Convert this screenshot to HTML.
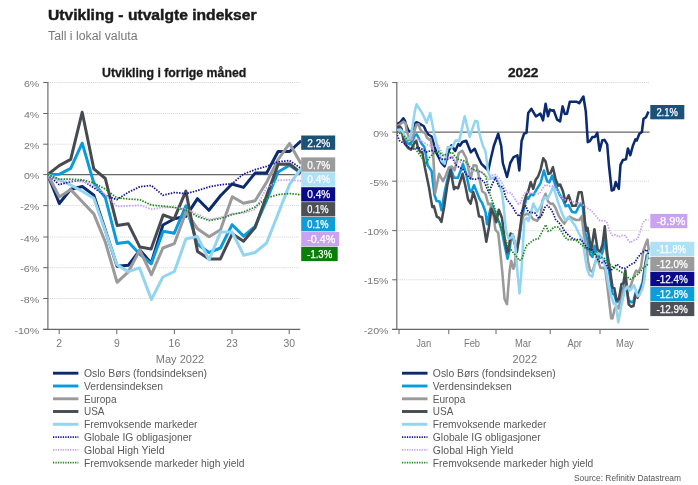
<!DOCTYPE html>
<html lang="no"><head><meta charset="utf-8"><title>Utvikling - utvalgte indekser</title>
<style>html,body{margin:0;padding:0;background:#fff}body{width:698px;height:485px;overflow:hidden;font-family:"Liberation Sans", sans-serif}svg{display:block}</style>
</head><body>
<svg width="698" height="485" viewBox="0 0 698 485" font-family='"Liberation Sans", sans-serif'>
<rect width="698" height="485" fill="#fff"/>
<text x="48" y="20.3" font-size="15" font-weight="700" fill="#1a1a1a" stroke="#1a1a1a" stroke-width="0.45" textLength="208.5" lengthAdjust="spacingAndGlyphs">Utvikling - utvalgte indekser</text>
<text x="48" y="39.6" font-size="12" fill="#777" textLength="89.5" lengthAdjust="spacingAndGlyphs">Tall i lokal valuta</text>
<text x="102" y="77.2" font-size="13" font-weight="700" fill="#1a1a1a" stroke="#1a1a1a" stroke-width="0.3" textLength="144.3" lengthAdjust="spacingAndGlyphs">Utvikling i forrige måned</text>
<text x="508" y="77" font-size="12.5" font-weight="700" fill="#1a1a1a" stroke="#1a1a1a" stroke-width="0.3" textLength="30.5" lengthAdjust="spacingAndGlyphs">2022</text>
<line x1="48" x2="300" y1="82.5" y2="82.5" stroke="#d2d2d2" stroke-width="1" stroke-dasharray="1 1.05"/>
<line x1="48" x2="300" y1="113.5" y2="113.5" stroke="#d2d2d2" stroke-width="1" stroke-dasharray="1 1.05"/>
<line x1="48" x2="300" y1="144.2" y2="144.2" stroke="#d2d2d2" stroke-width="1" stroke-dasharray="1 1.05"/>
<line x1="48" x2="300" y1="205.6" y2="205.6" stroke="#d2d2d2" stroke-width="1" stroke-dasharray="1 1.05"/>
<line x1="48" x2="300" y1="237.0" y2="237.0" stroke="#d2d2d2" stroke-width="1" stroke-dasharray="1 1.05"/>
<line x1="48" x2="300" y1="267.7" y2="267.7" stroke="#d2d2d2" stroke-width="1" stroke-dasharray="1 1.05"/>
<line x1="48" x2="300" y1="298.5" y2="298.5" stroke="#d2d2d2" stroke-width="1" stroke-dasharray="1 1.05"/>
<line x1="43.2" x2="48" y1="82.5" y2="82.5" stroke="#666" stroke-width="1"/>
<text x="23.9" y="87.0" font-size="9.7" fill="#777" textLength="15.4" lengthAdjust="spacingAndGlyphs">6%</text>
<line x1="43.2" x2="48" y1="113.5" y2="113.5" stroke="#666" stroke-width="1"/>
<text x="23.9" y="118.0" font-size="9.7" fill="#777" textLength="15.4" lengthAdjust="spacingAndGlyphs">4%</text>
<line x1="43.2" x2="48" y1="144.2" y2="144.2" stroke="#666" stroke-width="1"/>
<text x="23.9" y="148.7" font-size="9.7" fill="#777" textLength="15.4" lengthAdjust="spacingAndGlyphs">2%</text>
<line x1="43.2" x2="48" y1="174.6" y2="174.6" stroke="#666" stroke-width="1"/>
<text x="23.9" y="179.1" font-size="9.7" fill="#777" textLength="15.4" lengthAdjust="spacingAndGlyphs">0%</text>
<line x1="43.2" x2="48" y1="205.6" y2="205.6" stroke="#666" stroke-width="1"/>
<text x="20.3" y="210.1" font-size="9.7" fill="#777" textLength="19.0" lengthAdjust="spacingAndGlyphs">-2%</text>
<line x1="43.2" x2="48" y1="237.0" y2="237.0" stroke="#666" stroke-width="1"/>
<text x="20.3" y="241.5" font-size="9.7" fill="#777" textLength="19.0" lengthAdjust="spacingAndGlyphs">-4%</text>
<line x1="43.2" x2="48" y1="267.7" y2="267.7" stroke="#666" stroke-width="1"/>
<text x="20.3" y="272.2" font-size="9.7" fill="#777" textLength="19.0" lengthAdjust="spacingAndGlyphs">-6%</text>
<line x1="43.2" x2="48" y1="298.5" y2="298.5" stroke="#666" stroke-width="1"/>
<text x="20.3" y="303.0" font-size="9.7" fill="#777" textLength="19.0" lengthAdjust="spacingAndGlyphs">-8%</text>
<line x1="43.2" x2="48" y1="329.4" y2="329.4" stroke="#666" stroke-width="1"/>
<text x="14.4" y="333.9" font-size="9.7" fill="#777" textLength="24.9" lengthAdjust="spacingAndGlyphs">-10%</text>
<line x1="47.5" x2="300" y1="174.6" y2="174.6" stroke="#666" stroke-width="1.1"/>
<line x1="47.9" x2="47.9" y1="82.0" y2="329.9" stroke="#666" stroke-width="1.15"/>
<line x1="43.2" x2="300.3" y1="329.4" y2="329.4" stroke="#666" stroke-width="1.2"/>
<line x1="59.2" x2="59.2" y1="329.4" y2="334.2" stroke="#666" stroke-width="1"/>
<text x="59.2" y="346.6" font-size="10.4" fill="#777" text-anchor="middle">2</text>
<line x1="116.8" x2="116.8" y1="329.4" y2="334.2" stroke="#666" stroke-width="1"/>
<text x="116.8" y="346.6" font-size="10.4" fill="#777" text-anchor="middle">9</text>
<line x1="174.4" x2="174.4" y1="329.4" y2="334.2" stroke="#666" stroke-width="1"/>
<text x="174.4" y="346.6" font-size="10.4" fill="#777" text-anchor="middle">16</text>
<line x1="232" x2="232" y1="329.4" y2="334.2" stroke="#666" stroke-width="1"/>
<text x="232" y="346.6" font-size="10.4" fill="#777" text-anchor="middle">23</text>
<line x1="289.2" x2="289.2" y1="329.4" y2="334.2" stroke="#666" stroke-width="1"/>
<text x="289.2" y="346.6" font-size="10.4" fill="#777" text-anchor="middle">30</text>
<text x="180" y="362.5" font-size="11" fill="#777" text-anchor="middle">May 2022</text>
<g clip-path="url(#cl)">
<polyline points="47.7,174.5 59.3,203.5 70.7,189.3 82.3,186.5 93.8,195.1 105.3,230.0 117.1,266.3 128.3,265.3 139.9,250.1 151.2,263.1 162.9,225.0 174.4,218.8 185.9,216.3 197.5,198.7 208.9,210.3 220.5,195.8 232.0,184.0 243.5,187.4 255.1,173.1 266.6,173.1 278.1,151.5 289.6,151.5 301.1,140.8" fill="none" stroke="#0b2a6f" stroke-width="3.0" stroke-linejoin="round" stroke-linecap="butt"/>
<polyline points="47.7,174.5 59.2,174.3 70.7,168.3 82.2,143.2 93.8,183.0 105.3,197.5 117.1,243.5 128.3,242.0 139.9,254.3 151.2,263.8 163.2,231.2 174.2,233.3 185.9,205.9 197.5,244.2 209.0,252.5 220.5,248.0 232.1,224.7 243.6,236.1 255.1,226.4 266.6,200.3 278.1,172.0 289.6,165.3 301.1,173.2" fill="none" stroke="#0b9bdb" stroke-width="3.0" stroke-linejoin="round" stroke-linecap="butt"/>
<polyline points="47.7,174.5 59.4,197.0 70.7,189.6 82.3,201.8 93.8,213.9 105.3,242.0 117.1,282.3 128.3,271.9 139.8,250.1 151.4,274.7 162.9,248.0 174.4,243.6 186.0,211.9 197.5,228.8 209.0,236.8 220.5,229.8 232.3,196.7 243.5,203.3 255.1,200.8 266.6,182.2 278.1,159.5 289.6,143.4 301.1,163.9" fill="none" stroke="#9a9a9c" stroke-width="3.0" stroke-linejoin="round" stroke-linecap="butt"/>
<polyline points="47.7,174.5 59.2,165.6 70.7,159.4 82.2,112.2 93.8,168.8 105.3,178.5 117.2,225.6 128.2,223.7 139.9,247.1 151.1,248.9 163.2,215.0 174.1,218.8 185.9,191.1 197.5,251.4 209.0,259.0 220.4,258.9 232.2,233.8 243.5,241.3 255.1,227.5 266.6,195.8 278.2,164.2 289.6,164.0 301.1,173.0" fill="none" stroke="#474a50" stroke-width="3.0" stroke-linejoin="round" stroke-linecap="butt"/>
<polyline points="47.7,174.5 59.2,179.8 70.7,185.0 82.3,191.3 93.8,198.3 105.3,231.0 116.8,264.6 128.3,271.6 139.6,267.9 151.4,299.6 162.9,277.0 174.4,271.5 185.9,239.0 197.3,236.4 209.0,259.8 220.6,232.1 232.0,232.0 243.7,255.2 255.1,252.5 266.6,243.0 278.1,213.9 289.6,184.4 301.1,168.5" fill="none" stroke="#93d5f1" stroke-width="3.0" stroke-linejoin="round" stroke-linecap="butt"/>
<polyline points="47.7,174.5 59.2,184.7 70.7,181.6 82.3,180.4 93.8,187.8 105.3,195.3 116.8,199.7 128.3,192.3 139.9,186.7 151.4,185.5 162.9,195.3 174.4,192.5 185.9,193.7 197.5,190.6 209.0,186.9 220.5,184.8 232.0,183.7 243.5,174.0 255.1,169.7 266.6,166.3 278.1,161.8 289.6,160.6 301.1,168.5" fill="none" stroke="#15158f" stroke-width="1.75" stroke-dasharray="1.5 1.3" stroke-linejoin="round"/>
<polyline points="47.7,174.5 59.2,181.6 70.7,181.0 82.3,181.6 93.8,185.3 105.3,195.0 116.8,206.5 128.3,205.9 139.9,205.2 151.4,209.2 162.9,207.4 174.4,207.4 185.9,209.2 197.5,214.3 209.0,219.5 220.5,217.4 232.0,213.8 243.5,213.0 255.1,209.4 266.6,187.8 278.1,180.4 289.6,179.9 301.1,180.9" fill="none" stroke="#caa2f2" stroke-width="1.75" stroke-dasharray="1.5 1.3" stroke-linejoin="round"/>
<polyline points="47.7,174.5 59.2,179.2 70.7,179.2 82.3,179.8 93.8,182.9 105.3,189.1 116.8,197.8 128.3,199.0 139.9,199.7 151.4,205.1 162.9,206.1 174.4,207.4 185.9,210.2 197.5,216.4 209.0,220.5 220.5,218.5 232.0,214.6 243.5,212.0 255.1,207.1 266.6,198.0 278.1,194.6 289.6,193.5 301.1,194.7" fill="none" stroke="#1f8a1f" stroke-width="1.75" stroke-dasharray="1.5 1.3" stroke-linejoin="round"/>
</g>
<defs><clipPath id="cl"><rect x="47.5" y="80" width="254" height="250"/></clipPath><clipPath id="cr"><rect x="397" y="80" width="253" height="250"/></clipPath></defs>
<rect x="301.2" y="135.5" width="34" height="14.3" fill="#1b5276"/>
<text x="307.3" y="146.6" font-size="10.5" fill="#fff" stroke="#fff" stroke-width="0.25" textLength="23" lengthAdjust="spacingAndGlyphs">2.2%</text>
<rect x="301.2" y="157.4" width="34" height="14.3" fill="#9b9b9b"/>
<text x="307.3" y="168.5" font-size="10.5" fill="#fff" stroke="#fff" stroke-width="0.25" textLength="23" lengthAdjust="spacingAndGlyphs">0.7%</text>
<rect x="301.2" y="172.3" width="34" height="14.3" fill="#aee0f6"/>
<text x="307.3" y="183.4" font-size="10.5" fill="#fff" stroke="#fff" stroke-width="0.25" textLength="23" lengthAdjust="spacingAndGlyphs">0.4%</text>
<rect x="301.2" y="187.2" width="34" height="14.3" fill="#0a0a8a"/>
<text x="307.3" y="198.2" font-size="10.5" fill="#fff" stroke="#fff" stroke-width="0.25" textLength="23" lengthAdjust="spacingAndGlyphs">0.4%</text>
<rect x="301.2" y="202.1" width="34" height="14.3" fill="#4d5056"/>
<text x="307.3" y="213.2" font-size="10.5" fill="#fff" stroke="#fff" stroke-width="0.25" textLength="21.2" lengthAdjust="spacingAndGlyphs">0.1%</text>
<rect x="301.2" y="217" width="34" height="14.3" fill="#0f9cd8"/>
<text x="307.3" y="228.1" font-size="10.5" fill="#fff" stroke="#fff" stroke-width="0.25" textLength="21.2" lengthAdjust="spacingAndGlyphs">0.1%</text>
<rect x="301.2" y="231.9" width="38" height="14.3" fill="#caa2f2"/>
<text x="307.3" y="243.0" font-size="10.5" fill="#fff" stroke="#fff" stroke-width="0.25" textLength="28" lengthAdjust="spacingAndGlyphs">-0.4%</text>
<rect x="301.2" y="246.8" width="36.5" height="14.3" fill="#0a7d0a"/>
<text x="307.3" y="257.9" font-size="10.5" fill="#fff" stroke="#fff" stroke-width="0.25" textLength="24.8" lengthAdjust="spacingAndGlyphs">-1.3%</text>
<line x1="398" x2="649" y1="82.6" y2="82.6" stroke="#d2d2d2" stroke-width="1" stroke-dasharray="1 1.05"/>
<line x1="398" x2="649" y1="181.2" y2="181.2" stroke="#d2d2d2" stroke-width="1" stroke-dasharray="1 1.05"/>
<line x1="398" x2="649" y1="230.6" y2="230.6" stroke="#d2d2d2" stroke-width="1" stroke-dasharray="1 1.05"/>
<line x1="398" x2="649" y1="279.8" y2="279.8" stroke="#d2d2d2" stroke-width="1" stroke-dasharray="1 1.05"/>
<line x1="392.2" x2="397" y1="82.6" y2="82.6" stroke="#666" stroke-width="1"/>
<text x="373.2" y="87.1" font-size="9.7" fill="#777" textLength="15.4" lengthAdjust="spacingAndGlyphs">5%</text>
<line x1="392.2" x2="397" y1="132.1" y2="132.1" stroke="#666" stroke-width="1"/>
<text x="373.2" y="136.6" font-size="9.7" fill="#777" textLength="15.4" lengthAdjust="spacingAndGlyphs">0%</text>
<line x1="392.2" x2="397" y1="181.2" y2="181.2" stroke="#666" stroke-width="1"/>
<text x="369.6" y="185.7" font-size="9.7" fill="#777" textLength="19.0" lengthAdjust="spacingAndGlyphs">-5%</text>
<line x1="392.2" x2="397" y1="230.6" y2="230.6" stroke="#666" stroke-width="1"/>
<text x="363.7" y="235.1" font-size="9.7" fill="#777" textLength="24.9" lengthAdjust="spacingAndGlyphs">-10%</text>
<line x1="392.2" x2="397" y1="279.8" y2="279.8" stroke="#666" stroke-width="1"/>
<text x="363.7" y="284.3" font-size="9.7" fill="#777" textLength="24.9" lengthAdjust="spacingAndGlyphs">-15%</text>
<line x1="392.2" x2="397" y1="329.4" y2="329.4" stroke="#666" stroke-width="1"/>
<text x="363.7" y="333.9" font-size="9.7" fill="#777" textLength="24.9" lengthAdjust="spacingAndGlyphs">-20%</text>
<line x1="397" x2="649.6" y1="132.1" y2="132.1" stroke="#666" stroke-width="1.1"/>
<line x1="396.8" x2="396.8" y1="82.1" y2="329.9" stroke="#666" stroke-width="1.15"/>
<line x1="392.2" x2="648.8" y1="329.4" y2="329.4" stroke="#666" stroke-width="1.2"/>
<line x1="399" x2="399" y1="329.4" y2="334.2" stroke="#666" stroke-width="1"/>
<line x1="448.8" x2="448.8" y1="329.4" y2="334.2" stroke="#666" stroke-width="1"/>
<line x1="496" x2="496" y1="329.4" y2="334.2" stroke="#666" stroke-width="1"/>
<line x1="550.2" x2="550.2" y1="329.4" y2="334.2" stroke="#666" stroke-width="1"/>
<line x1="600" x2="600" y1="329.4" y2="334.2" stroke="#666" stroke-width="1"/>
<text x="416.2" y="346.8" font-size="10.8" fill="#777" textLength="15.1" lengthAdjust="spacingAndGlyphs">Jan</text>
<text x="463.9" y="346.8" font-size="10.8" fill="#777" textLength="16.2" lengthAdjust="spacingAndGlyphs">Feb</text>
<text x="514.9" y="346.8" font-size="10.8" fill="#777" textLength="16.2" lengthAdjust="spacingAndGlyphs">Mar</text>
<text x="567.4" y="346.8" font-size="10.8" fill="#777" textLength="14.6" lengthAdjust="spacingAndGlyphs">Apr</text>
<text x="616.1" y="346.8" font-size="10.8" fill="#777" textLength="17.7" lengthAdjust="spacingAndGlyphs">May</text>
<text x="524.8" y="362.5" font-size="11" fill="#777" text-anchor="middle">2022</text>
<g clip-path="url(#cr)">
<polyline points="396.8,124.5 400.5,122.0 403.3,118.3 405.0,120.9 406.7,126.5 408.4,130.5 411.3,132.3 414.7,123.7 416.4,122.2 418.6,123.1 421.5,124.8 423.7,126.0 426.0,131.1 428.3,134.5 431.6,136.5 436.5,153.0 441.5,162.9 444.6,166.3 448.9,150.5 451.5,145.3 455.2,151.0 458.3,144.0 459.9,145.7 462.4,142.0 466.2,140.7 470.8,152.2 474.7,148.8 478.1,157.0 481.4,163.8 484.7,167.0 488.3,170.5 490.5,160.0 493.8,146.0 498.2,133.8 501.2,146.0 502.8,163.0 507.0,177.0 510.3,163.0 513.6,157.2 517.4,155.4 519.3,170.4 521.6,141.0 524.1,133.6 526.5,132.7 528.2,113.0 531.4,108.8 535.9,116.3 540.4,113.7 543.0,120.4 545.6,103.8 548.0,116.2 549.9,109.6 552.2,110.7 553.7,110.3 557.1,119.6 560.1,121.3 562.6,106.4 564.8,114.0 567.0,113.8 569.8,101.7 576.9,101.8 579.2,103.2 583.4,96.5 585.8,111.4 587.8,142.1 589.9,141.1 592.4,137.0 594.9,136.9 597.3,132.8 599.6,150.7 602.3,140.3 604.5,139.9 607.2,144.4 608.9,165.0 611.7,190.5 613.9,189.6 615.7,182.1 618.8,188.8 620.5,164.8 623.0,159.9 626.0,159.3 627.9,148.5 630.3,155.2 632.8,146.0 635.4,139.4 636.8,140.4 639.4,133.7 641.9,132.0 643.5,118.9 646.0,117.2 648.5,111.4" fill="none" stroke="#0b2a6f" stroke-width="2.55" stroke-linejoin="round" stroke-linecap="butt"/>
<polyline points="396.8,128.5 399.4,128.1 402.0,132.0 404.0,139.0 407.0,143.0 409.9,144.4 413.0,140.0 415.0,135.0 416.7,134.4 419.2,139.0 421.5,143.5 424.3,147.0 426.0,154.9 427.5,165.0 431.6,171.0 434.5,195.0 436.6,201.0 439.6,201.5 441.5,210.3 444.8,191.3 448.1,176.5 450.6,168.3 454.0,177.8 457.9,177.8 461.3,169.0 462.9,164.0 466.2,174.0 469.7,190.5 471.4,192.0 474.0,185.2 476.4,191.0 479.7,199.3 482.2,203.0 485.5,212.0 487.0,224.2 489.0,215.0 491.6,203.8 495.0,212.0 497.0,218.0 499.5,223.0 502.0,232.0 504.5,244.4 507.5,258.7 509.6,249.8 511.2,236.7 513.0,238.0 516.5,249.2 519.0,240.0 521.5,222.0 524.0,208.0 526.7,197.0 528.2,198.7 530.9,194.4 533.3,195.3 536.5,189.6 540.6,183.0 543.9,170.6 547.2,181.3 549.4,182.3 552.2,175.5 555.5,185.5 559.6,194.5 562.9,199.5 565.6,206.3 568.5,205.1 572.0,211.9 575.9,212.4 578.6,207.0 581.0,203.6 582.8,207.0 585.3,233.0 587.7,241.2 590.2,254.4 592.5,257.0 594.6,245.8 597.6,256.0 600.0,258.2 602.6,252.0 605.0,240.8 607.3,258.0 609.7,275.0 612.6,293.9 614.3,294.5 616.6,302.3 618.8,301.0 621.2,289.0 623.7,288.0 625.4,277.8 627.0,291.0 628.7,300.0 631.2,302.3 633.6,301.0 635.5,292.7 637.6,294.2 640.2,289.0 642.7,282.0 645.2,266.0 647.0,257.5 648.5,258.4" fill="none" stroke="#0b9bdb" stroke-width="2.55" stroke-linejoin="round" stroke-linecap="butt"/>
<polyline points="396.8,126.0 399.0,125.0 403.3,121.7 405.6,123.1 406.7,131.0 407.9,134.5 410.1,140.2 413.0,136.0 416.4,124.8 418.4,124.3 420.3,129.4 422.6,132.2 424.9,132.8 427.1,137.9 429.4,139.6 430.6,139.2 433.2,155.0 435.3,192.7 439.1,173.8 443.0,181.2 446.0,175.0 448.9,167.5 451.8,166.5 454.6,170.2 458.8,153.0 462.2,150.7 466.2,158.0 468.2,168.0 470.7,178.7 473.5,165.2 476.4,165.5 479.7,179.5 482.2,191.3 485.5,193.8 488.3,204.3 490.3,203.7 493.0,211.5 495.4,229.6 498.2,232.9 499.7,246.5 502.2,271.2 504.6,299.3 507.0,304.2 509.6,271.2 511.2,260.8 513.4,268.7 514.5,266.3 516.2,251.4 518.0,240.0 520.0,228.0 523.3,216.0 526.6,213.7 530.0,215.0 533.2,219.3 537.2,220.7 540.6,216.0 542.3,201.1 545.6,193.7 548.0,201.1 550.6,203.9 552.8,203.5 555.5,207.7 558.8,216.0 562.1,221.0 564.4,223.6 567.0,219.3 569.6,216.6 572.8,218.5 576.1,220.0 579.4,220.0 581.8,216.2 583.6,233.0 586.8,250.0 588.2,262.0 589.9,270.0 592.5,271.9 595.2,262.7 597.5,258.5 600.4,268.0 603.4,267.7 605.3,270.0 607.2,284.5 609.7,306.0 611.2,318.3 612.4,318.5 614.6,309.3 616.5,305.8 618.7,308.5 621.0,297.0 623.5,290.0 626.0,283.8 628.5,289.2 631.0,285.0 634.4,274.6 636.2,270.5 638.5,272.2 641.0,266.4 643.5,250.0 646.0,243.3 647.5,239.6 648.8,250.5" fill="none" stroke="#9a9a9c" stroke-width="2.55" stroke-linejoin="round" stroke-linecap="butt"/>
<polyline points="396.8,127.1 399.9,126.6 401.6,128.8 403.3,139.0 405.6,144.7 408.4,148.1 411.1,149.7 413.0,145.8 414.7,142.4 416.2,140.8 418.1,148.1 420.5,152.1 422.3,152.1 425.0,168.0 429.1,188.0 432.3,207.1 433.9,206.1 436.9,216.9 439.0,217.7 441.4,221.9 444.0,207.8 447.3,185.0 450.6,170.1 454.0,189.2 455.6,187.1 458.0,188.3 461.3,178.0 462.6,173.8 465.6,187.0 468.1,199.5 470.6,203.7 473.3,192.1 476.4,202.0 479.0,216.3 482.1,217.3 484.7,231.2 486.3,241.8 488.8,228.0 491.4,208.8 494.6,216.4 496.2,222.2 498.8,209.8 502.0,218.0 504.5,237.8 507.2,252.2 508.5,251.0 510.6,233.6 512.7,234.5 516.9,252.0 519.3,236.2 521.8,214.7 524.3,201.5 526.2,195.0 528.2,191.2 530.7,182.1 533.2,188.8 535.7,179.7 538.1,176.4 540.6,169.8 543.2,158.2 545.6,161.5 548.3,174.0 550.5,173.0 552.9,167.3 555.5,178.9 558.1,185.6 560.2,184.5 562.9,191.2 565.5,202.0 568.7,195.3 572.2,205.8 575.9,205.7 578.8,192.3 581.6,192.3 583.5,204.4 584.8,221.0 586.3,230.7 587.5,227.8 591.2,250.2 594.4,229.3 597.6,249.5 600.0,252.2 602.6,244.5 604.8,226.3 607.3,254.0 609.7,268.0 612.5,287.5 614.3,288.1 616.6,300.3 618.8,299.4 621.5,284.0 623.4,283.4 625.4,270.5 627.0,289.5 628.7,304.3 631.1,306.7 633.5,306.0 635.4,295.2 637.6,297.8 640.2,291.1 642.7,284.5 645.2,264.7 646.9,254.8 648.5,259.4" fill="none" stroke="#474a50" stroke-width="2.55" stroke-linejoin="round" stroke-linecap="butt"/>
<polyline points="396.8,130.5 400.5,129.5 403.3,132.8 405.6,137.9 407.9,139.0 410.1,137.9 412.4,127.7 414.7,111.8 416.5,104.3 419.8,109.5 422.0,112.9 424.3,117.5 426.6,122.7 430.2,113.0 434.0,132.8 437.4,146.0 441.5,161.0 444.6,163.8 447.7,147.0 452.0,147.3 455.6,140.6 459.3,140.6 464.7,116.3 469.7,136.9 475.1,120.9 477.3,121.2 479.7,134.6 483.0,146.2 485.5,151.2 488.0,171.2 490.8,178.8 495.2,176.9 498.7,182.8 502.0,193.0 503.7,206.5 506.1,231.2 508.8,238.8 511.0,237.8 512.6,234.5 515.2,244.4 516.5,260.0 517.8,276.2 519.5,293.5 521.1,276.2 522.7,251.0 524.3,219.7 526.6,217.9 528.4,221.2 530.9,213.0 533.3,203.6 537.3,211.9 540.6,206.0 544.8,197.0 547.8,198.8 550.5,192.9 553.0,187.1 555.5,193.7 558.8,204.4 562.1,213.5 565.4,220.4 568.3,217.1 572.0,221.2 575.3,226.0 579.5,234.6 582.8,240.0 584.4,252.8 586.9,268.0 589.4,275.0 592.2,276.6 595.0,264.5 597.0,253.9 599.5,253.8 603.0,259.0 605.5,267.0 608.0,282.0 610.5,294.4 613.9,303.8 615.7,303.6 618.3,322.4 621.0,307.2 623.3,297.0 625.0,290.2 627.3,286.5 629.7,290.5 631.8,288.5 634.0,285.3 635.8,290.2 637.7,296.3 639.8,294.7 642.6,288.0 644.3,280.0 646.0,264.7 647.6,256.5 648.5,250.0" fill="none" stroke="#93d5f1" stroke-width="2.55" stroke-linejoin="round" stroke-linecap="butt"/>
<polyline points="396.8,132.1 397.6,136.0 399.4,140.6 403.5,143.0 408.5,147.0 413.4,148.9 418.4,147.5 423.3,149.7 426.6,152.0 431.6,150.5 435.7,152.0 439.8,158.0 443.1,159.6 448.1,158.8 452.2,157.0 455.5,164.5 459.6,167.8 462.4,168.8 466.5,174.5 470.7,178.7 474.8,179.5 479.7,177.8 484.7,182.8 488.8,192.7 492.1,184.4 495.4,177.8 498.7,186.0 502.8,187.0 506.1,198.5 509.4,202.6 512.7,207.0 516.0,213.0 519.3,216.4 521.8,211.5 524.3,206.5 525.8,206.0 528.2,211.9 531.5,212.7 534.8,212.7 539.0,218.5 542.3,214.3 544.7,207.7 547.2,205.3 550.5,208.6 553.0,212.7 555.5,219.3 558.8,222.6 562.1,226.7 564.6,231.3 568.8,235.5 572.9,238.8 577.0,239.6 581.1,239.6 584.4,244.5 587.7,248.7 591.9,249.5 595.2,254.4 598.5,261.0 601.8,262.7 605.0,261.0 607.5,267.6 610.5,270.9 613.8,267.6 617.1,264.3 620.4,267.6 624.5,268.5 627.8,266.8 631.1,264.3 634.4,262.7 637.7,257.7 641.0,253.6 644.3,251.1 646.8,249.5 648.5,254.4" fill="none" stroke="#15158f" stroke-width="1.75" stroke-dasharray="1.5 1.3" stroke-linejoin="round"/>
<polyline points="396.8,131.5 400.0,133.0 404.0,136.0 408.5,138.0 413.4,139.8 418.4,139.0 423.3,142.3 427.5,144.7 432.4,146.4 438.2,145.6 443.1,154.6 448.1,158.0 452.2,155.5 455.0,162.2 463.2,162.2 466.5,163.0 469.8,169.6 473.1,171.2 479.7,171.2 485.5,175.4 488.8,179.5 492.1,175.4 495.4,174.5 499.5,178.7 503.7,186.0 507.0,192.7 511.0,192.7 515.2,199.3 518.5,204.2 521.0,202.6 522.5,197.0 525.8,192.0 529.9,192.9 534.8,193.7 539.8,193.7 542.3,188.8 545.6,184.6 549.7,186.3 553.0,185.5 557.1,190.4 560.4,195.4 563.7,199.5 567.8,200.3 571.1,201.1 576.1,202.8 581.0,202.8 583.3,205.0 587.4,208.2 591.5,210.7 595.7,215.7 599.8,220.6 604.7,220.6 607.2,223.0 609.7,231.3 612.2,235.5 615.5,234.6 618.8,237.1 622.0,235.5 625.4,235.5 627.8,239.6 630.3,242.9 633.6,240.4 637.7,238.8 640.2,231.3 642.7,223.0 645.2,219.8 648.5,219.8" fill="none" stroke="#caa2f2" stroke-width="1.75" stroke-dasharray="1.5 1.3" stroke-linejoin="round"/>
<polyline points="396.8,131.5 398.6,132.4 403.5,135.7 408.5,141.4 413.4,146.4 418.4,153.0 422.5,158.8 425.8,163.7 429.1,158.0 433.2,153.8 438.2,151.3 443.1,155.5 448.1,153.8 452.2,152.2 455.0,156.4 459.0,159.7 463.2,160.5 466.5,162.2 469.8,167.0 473.1,169.6 476.4,170.4 481.4,172.0 485.5,175.4 488.0,186.0 490.5,196.0 493.0,202.6 494.6,208.0 497.9,218.0 501.2,228.0 504.5,237.8 507.8,245.3 511.9,251.0 516.0,256.0 519.3,260.5 521.8,259.3 524.3,251.2 526.8,245.3 530.0,242.8 534.1,239.6 538.2,238.8 541.5,233.0 545.7,224.7 548.1,231.3 550.6,230.5 553.9,227.2 558.0,227.2 560.5,229.7 563.8,235.5 567.1,239.6 572.1,239.6 576.2,240.4 579.5,242.9 584.1,247.0 588.2,250.3 592.4,252.8 596.5,255.3 600.6,256.9 604.7,258.6 608.0,261.9 611.3,266.0 615.5,268.5 619.6,270.9 623.7,273.4 627.0,276.7 630.3,279.2 633.6,277.5 636.9,275.0 640.2,271.8 643.5,267.6 646.8,265.2 648.5,263.0" fill="none" stroke="#1f8a1f" stroke-width="1.75" stroke-dasharray="1.5 1.3" stroke-linejoin="round"/>
</g>
<rect x="650.3" y="105" width="34" height="14.3" fill="#1b5276"/>
<text x="656.4" y="116.1" font-size="10.5" fill="#fff" stroke="#fff" stroke-width="0.25" textLength="21.4" lengthAdjust="spacingAndGlyphs">2.1%</text>
<rect x="650.3" y="213.9" width="37" height="14.3" fill="#caa2f2"/>
<text x="656.4" y="225.0" font-size="10.5" fill="#fff" stroke="#fff" stroke-width="0.25" textLength="29" lengthAdjust="spacingAndGlyphs">-8.9%</text>
<rect x="650.3" y="241.8" width="44" height="14.3" fill="#aee0f6"/>
<text x="656.4" y="252.9" font-size="10.5" fill="#fff" stroke="#fff" stroke-width="0.25" textLength="29.7" lengthAdjust="spacingAndGlyphs">-11.8%</text>
<rect x="650.3" y="256.8" width="44" height="14.3" fill="#9b9b9b"/>
<text x="656.4" y="267.8" font-size="10.5" fill="#fff" stroke="#fff" stroke-width="0.25" textLength="31.4" lengthAdjust="spacingAndGlyphs">-12.0%</text>
<rect x="650.3" y="271.8" width="44" height="14.3" fill="#0a0a8a"/>
<text x="656.4" y="282.8" font-size="10.5" fill="#fff" stroke="#fff" stroke-width="0.25" textLength="31.4" lengthAdjust="spacingAndGlyphs">-12.4%</text>
<rect x="650.3" y="286.8" width="44" height="14.3" fill="#0f9cd8"/>
<text x="656.4" y="297.8" font-size="10.5" fill="#fff" stroke="#fff" stroke-width="0.25" textLength="31.4" lengthAdjust="spacingAndGlyphs">-12.8%</text>
<rect x="650.3" y="301.8" width="44" height="14.3" fill="#4d5056"/>
<text x="656.4" y="312.8" font-size="10.5" fill="#fff" stroke="#fff" stroke-width="0.25" textLength="31.4" lengthAdjust="spacingAndGlyphs">-12.9%</text>
<line x1="53" x2="78.4" y1="373.2" y2="373.2" stroke="#0b2a6f" stroke-width="2.9"/>
<text x="84" y="377.1" font-size="11" fill="#585858" textLength="123" lengthAdjust="spacingAndGlyphs">Oslo Børs (fondsindeksen)</text>
<line x1="53" x2="78.4" y1="386.0" y2="386.0" stroke="#0b9bdb" stroke-width="2.9"/>
<text x="84" y="389.9" font-size="11" fill="#585858" textLength="79" lengthAdjust="spacingAndGlyphs">Verdensindeksen</text>
<line x1="53" x2="78.4" y1="398.8" y2="398.8" stroke="#9a9a9c" stroke-width="2.9"/>
<text x="84" y="402.7" font-size="11" fill="#585858" textLength="32.5" lengthAdjust="spacingAndGlyphs">Europa</text>
<line x1="53" x2="78.4" y1="411.5" y2="411.5" stroke="#474a50" stroke-width="2.9"/>
<text x="84" y="415.4" font-size="11" fill="#585858" textLength="20.5" lengthAdjust="spacingAndGlyphs">USA</text>
<line x1="53" x2="78.4" y1="424.3" y2="424.3" stroke="#93d5f1" stroke-width="2.9"/>
<text x="84" y="428.2" font-size="11" fill="#585858" textLength="113.5" lengthAdjust="spacingAndGlyphs">Fremvoksende markeder</text>
<line x1="53" x2="78.4" y1="437.1" y2="437.1" stroke="#15158f" stroke-width="1.8" stroke-dasharray="1.3 1.15"/>
<text x="84" y="441.0" font-size="11" fill="#585858" textLength="108" lengthAdjust="spacingAndGlyphs">Globale IG obligasjoner</text>
<line x1="53" x2="78.4" y1="449.9" y2="449.9" stroke="#caa2f2" stroke-width="1.8" stroke-dasharray="1.3 1.15"/>
<text x="84" y="453.8" font-size="11" fill="#585858" textLength="80.5" lengthAdjust="spacingAndGlyphs">Global High Yield</text>
<line x1="53" x2="78.4" y1="462.7" y2="462.7" stroke="#1f8a1f" stroke-width="1.8" stroke-dasharray="1.3 1.15"/>
<text x="84" y="466.6" font-size="11" fill="#585858" textLength="160.5" lengthAdjust="spacingAndGlyphs">Fremvoksende markeder high yield</text>
<line x1="402" x2="427.5" y1="373.2" y2="373.2" stroke="#0b2a6f" stroke-width="2.9"/>
<text x="432.8" y="377.1" font-size="11" fill="#585858" textLength="123" lengthAdjust="spacingAndGlyphs">Oslo Børs (fondsindeksen)</text>
<line x1="402" x2="427.5" y1="386.0" y2="386.0" stroke="#0b9bdb" stroke-width="2.9"/>
<text x="432.8" y="389.9" font-size="11" fill="#585858" textLength="79" lengthAdjust="spacingAndGlyphs">Verdensindeksen</text>
<line x1="402" x2="427.5" y1="398.8" y2="398.8" stroke="#9a9a9c" stroke-width="2.9"/>
<text x="432.8" y="402.7" font-size="11" fill="#585858" textLength="32.5" lengthAdjust="spacingAndGlyphs">Europa</text>
<line x1="402" x2="427.5" y1="411.5" y2="411.5" stroke="#474a50" stroke-width="2.9"/>
<text x="432.8" y="415.4" font-size="11" fill="#585858" textLength="20.5" lengthAdjust="spacingAndGlyphs">USA</text>
<line x1="402" x2="427.5" y1="424.3" y2="424.3" stroke="#93d5f1" stroke-width="2.9"/>
<text x="432.8" y="428.2" font-size="11" fill="#585858" textLength="113.5" lengthAdjust="spacingAndGlyphs">Fremvoksende markeder</text>
<line x1="402" x2="427.5" y1="437.1" y2="437.1" stroke="#15158f" stroke-width="1.8" stroke-dasharray="1.3 1.15"/>
<text x="432.8" y="441.0" font-size="11" fill="#585858" textLength="108" lengthAdjust="spacingAndGlyphs">Globale IG obligasjoner</text>
<line x1="402" x2="427.5" y1="449.9" y2="449.9" stroke="#caa2f2" stroke-width="1.8" stroke-dasharray="1.3 1.15"/>
<text x="432.8" y="453.8" font-size="11" fill="#585858" textLength="80.5" lengthAdjust="spacingAndGlyphs">Global High Yield</text>
<line x1="402" x2="427.5" y1="462.7" y2="462.7" stroke="#1f8a1f" stroke-width="1.8" stroke-dasharray="1.3 1.15"/>
<text x="432.8" y="466.6" font-size="11" fill="#585858" textLength="160.5" lengthAdjust="spacingAndGlyphs">Fremvoksende markeder high yield</text>
<text x="574" y="481" font-size="9.5" fill="#555" textLength="107" lengthAdjust="spacingAndGlyphs">Source: Refinitiv Datastream</text>
</svg>
</body></html>
